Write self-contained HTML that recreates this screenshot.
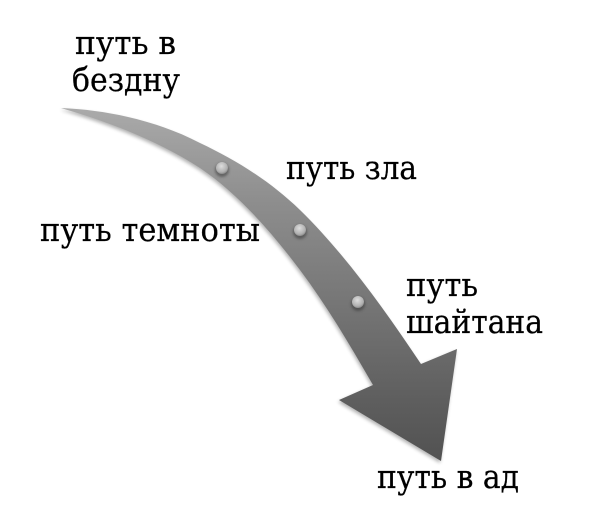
<!DOCTYPE html>
<html><head><meta charset="utf-8">
<style>
html,body{margin:0;padding:0;background:#fff;width:608px;height:515px;overflow:hidden}
svg{display:block}
text{font-family:"DejaVu Serif","Liberation Serif",serif;font-size:33px;fill:#000;stroke:#000;stroke-width:.25px}
</style></head><body>
<svg width="608" height="515" viewBox="0 0 608 515" xmlns="http://www.w3.org/2000/svg">
<defs>
<linearGradient id="g" x1="0" y1="108" x2="0" y2="461" gradientUnits="userSpaceOnUse">
<stop offset="0" stop-color="#aaa"/><stop offset=".26" stop-color="#8e8e8e"/><stop offset=".54" stop-color="#777"/><stop offset=".83" stop-color="#5e5e5e"/><stop offset="1" stop-color="#525252"/>
</linearGradient>
<radialGradient id="d" cx=".45" cy=".35" r=".7"><stop offset="0" stop-color="#dedede"/><stop offset=".7" stop-color="#b0b0b0"/><stop offset="1" stop-color="#808080"/></radialGradient>
<filter id="s" x="-10%" y="-10%" width="120%" height="120%"><feGaussianBlur stdDeviation="1.8"/></filter>
<filter id="s2" x="-50%" y="-50%" width="200%" height="200%"><feGaussianBlur stdDeviation="1.2"/></filter>
</defs>
<path d="M61 108C110 110 160 122 200 143C236 160 270 181 300 210C345 254 385 310 421 364L457 349L441 461L339 400L373 385C350 345 327 306 300 270C270 230 237 193 200 168C160 142 110 122 61 108Z" fill="#000" opacity=".3" filter="url(#s)" transform="translate(-1,2)"/>
<path d="M61 108C110 110 160 122 200 143C236 160 270 181 300 210C345 254 385 310 421 364L457 349L441 461L339 400L373 385C350 345 327 306 300 270C270 230 237 193 200 168C160 142 110 122 61 108Z" fill="url(#g)"/>
<g>
<circle cx="222" cy="170" r="7" fill="#333" opacity=".5" filter="url(#s2)"/><circle cx="222" cy="168" r="6" fill="url(#d)"/>
<circle cx="300" cy="232" r="7" fill="#333" opacity=".5" filter="url(#s2)"/><circle cx="300" cy="230" r="6" fill="url(#d)"/>
<circle cx="358" cy="304" r="7" fill="#333" opacity=".5" filter="url(#s2)"/><circle cx="358" cy="302" r="6" fill="url(#d)"/>
</g>
<text x="75" y="54" textLength="101" lengthAdjust="spacingAndGlyphs">путь в</text>
<text x="72" y="91" textLength="108" lengthAdjust="spacingAndGlyphs">бездну</text>
<text x="286" y="179" textLength="131" lengthAdjust="spacingAndGlyphs">путь зла</text>
<text x="40" y="241" textLength="220" lengthAdjust="spacingAndGlyphs">путь темноты</text>
<text x="406" y="296" textLength="72" lengthAdjust="spacingAndGlyphs">путь</text>
<text x="406" y="333" textLength="137" lengthAdjust="spacingAndGlyphs">шайтана</text>
<text x="377" y="488" textLength="142" lengthAdjust="spacingAndGlyphs">путь в ад</text>
</svg>
</body></html>
